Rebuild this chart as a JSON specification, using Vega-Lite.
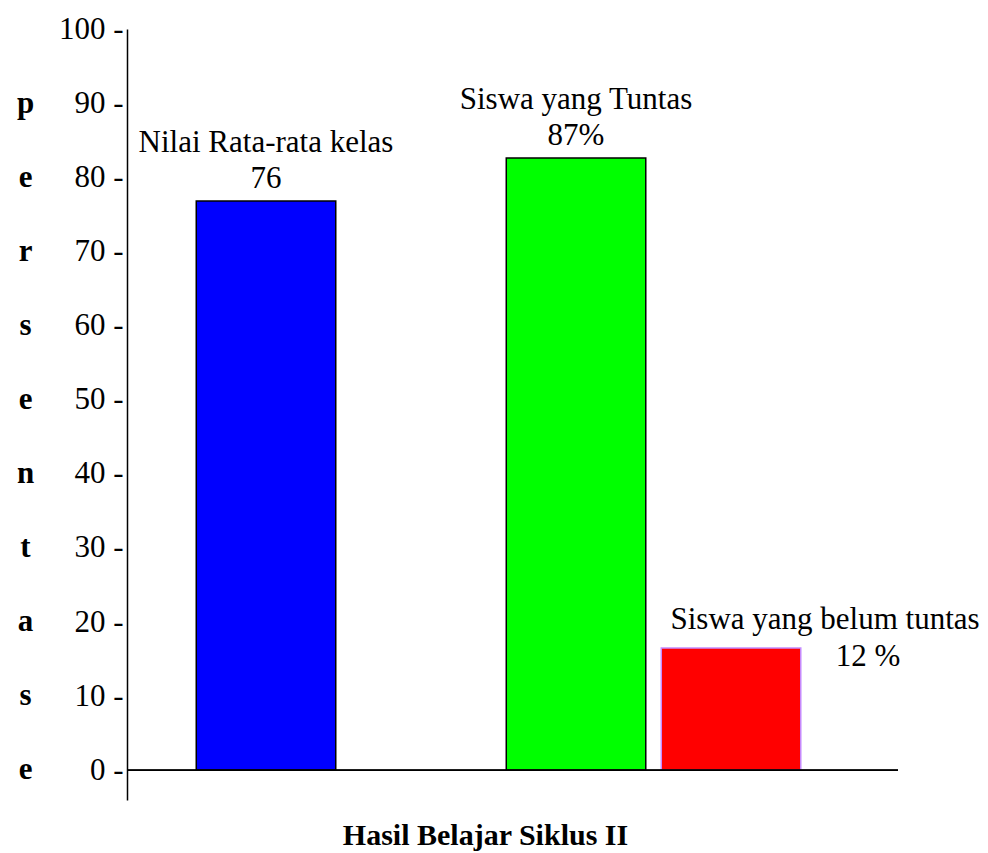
{
  "$schema": "https://vega.github.io/schema/vega-lite/v6.json",
  "width": 771,
  "height": 771,
  "autosize": {"type": "none"},
  "padding": {"left": 127, "top": 29, "right": 90, "bottom": 53},
  "background": "white",
  "config": {
    "view": {"stroke": null},
    "font": "Liberation Serif",
    "axisY": {
      "ticks": false,
      "grid": false,
      "domainColor": "black",
      "domainWidth": 1.5,
      "labelFont": "Liberation Serif",
      "labelFontSize": 31,
      "labelColor": "black",
      "labelPadding": 4,
      "labelFlush": false,
      "labelOverlap": false,
      "labelBound": false,
      "titleFont": "Liberation Serif",
      "titleFontSize": 31,
      "titleFontWeight": "bold",
      "titleColor": "black",
      "titleAngle": 0,
      "titleAlign": "center",
      "titleBaseline": "middle",
      "titleLineHeight": 74.1,
      "titleX": -102,
      "titleY": 74.1
    },
    "axisX": {
      "labels": false,
      "ticks": false,
      "domain": false,
      "grid": false,
      "titleFont": "Liberation Serif",
      "titleFontSize": 30,
      "titleFontWeight": "bold",
      "titleColor": "black",
      "titleX": 358,
      "titleY": 35,
      "titleAlign": "center",
      "titleBaseline": "middle"
    }
  },
  "data": {
    "values": [
      {"kategori": "Nilai Rata-rata kelas", "nilai": 76.8, "label": "76"},
      {"kategori": "Siswa yang Tuntas", "nilai": 82.6, "label": "87%"},
      {"kategori": "Siswa yang belum tuntas", "nilai": 16.5, "label": "12 %"}
    ]
  },
  "layer": [
    {
      "mark": {"type": "bar", "strokeWidth": 1.5},
      "encoding": {
        "x": {
          "field": "kategori",
          "type": "nominal",
          "scale": {
            "domain": ["Nilai Rata-rata kelas", " ", "Siswa yang Tuntas", "Siswa yang belum tuntas"],
            "paddingInner": 0.1,
            "paddingOuter": 0.537,
            "align": 0.416
          },
          "axis": {"title": "Hasil Belajar Siklus II"}
        },
        "y": {
          "field": "nilai",
          "type": "quantitative",
          "scale": {"domain": [-4, 100], "nice": false, "zero": false},
          "axis": {
            "values": [0, 10, 20, 30, 40, 50, 60, 70, 80, 90, 100],
            "labelExpr": "datum.label + ' -'",
            "title": ["p", "e", "r", "s", "e", "n", "t", "a", "s", "e"]
          }
        },
        "y2": {"datum": 0},
        "color": {
          "field": "kategori",
          "type": "nominal",
          "scale": {
            "domain": ["Nilai Rata-rata kelas", "Siswa yang Tuntas", "Siswa yang belum tuntas"],
            "range": ["#0000ff", "#00ff00", "#ff0000"]
          },
          "legend": null
        },
        "stroke": {
          "field": "kategori",
          "type": "nominal",
          "scale": {
            "domain": ["Nilai Rata-rata kelas", "Siswa yang Tuntas", "Siswa yang belum tuntas"],
            "range": ["#000000", "#000000", "#c58cff"]
          },
          "legend": null
        }
      }
    },
    {
      "mark": {"type": "rule", "color": "black", "strokeWidth": 1.5},
      "encoding": {
        "y": {"datum": 0, "type": "quantitative"}
      }
    },
    {
      "transform": [{"filter": "datum.kategori !== 'Siswa yang belum tuntas'"}],
      "mark": {"type": "text", "fontSize": 31, "font": "Liberation Serif", "color": "black", "baseline": "middle", "align": "center", "dy": -58},
      "encoding": {
        "x": {"field": "kategori", "type": "nominal"},
        "y": {"field": "nilai", "type": "quantitative"},
        "text": {"field": "kategori"}
      }
    },
    {
      "transform": [{"filter": "datum.kategori !== 'Siswa yang belum tuntas'"}],
      "mark": {"type": "text", "fontSize": 31, "font": "Liberation Serif", "color": "black", "baseline": "middle", "align": "center", "dy": -22},
      "encoding": {
        "x": {"field": "kategori", "type": "nominal"},
        "y": {"field": "nilai", "type": "quantitative"},
        "text": {"field": "label"}
      }
    },
    {
      "transform": [{"filter": "datum.kategori === 'Siswa yang belum tuntas'"}],
      "mark": {"type": "text", "fontSize": 31, "font": "Liberation Serif", "color": "black", "baseline": "middle", "align": "center", "dx": 94, "dy": -28},
      "encoding": {
        "x": {"field": "kategori", "type": "nominal"},
        "y": {"field": "nilai", "type": "quantitative"},
        "text": {"field": "kategori"}
      }
    },
    {
      "transform": [{"filter": "datum.kategori === 'Siswa yang belum tuntas'"}],
      "mark": {"type": "text", "fontSize": 31, "font": "Liberation Serif", "color": "black", "baseline": "middle", "align": "center", "dx": 137, "dy": 9},
      "encoding": {
        "x": {"field": "kategori", "type": "nominal"},
        "y": {"field": "nilai", "type": "quantitative"},
        "text": {"field": "label"}
      }
    }
  ]
}
